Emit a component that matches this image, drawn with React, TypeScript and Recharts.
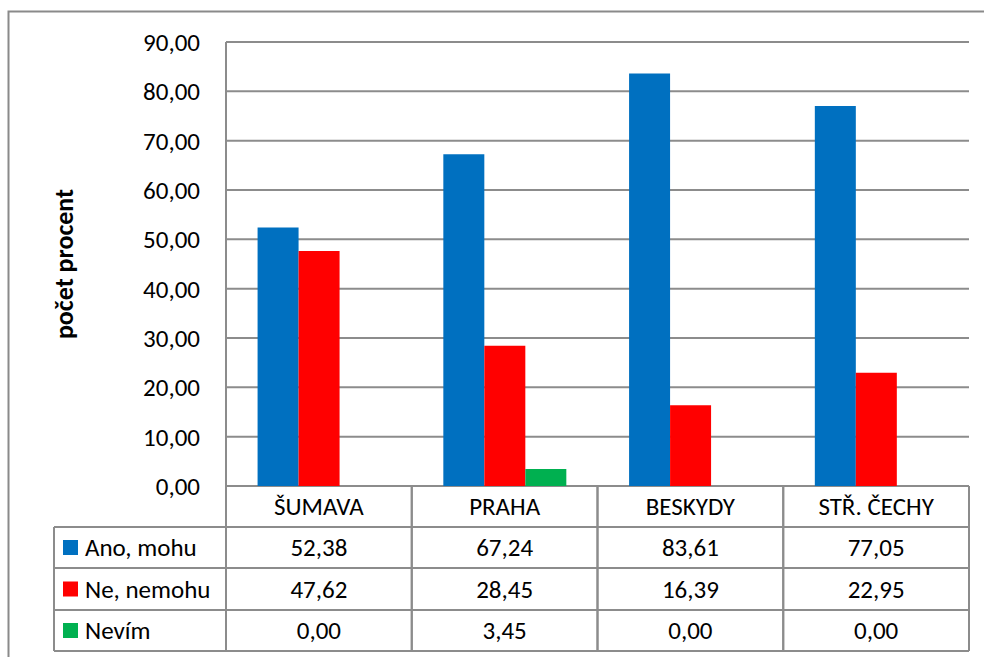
import React from 'react';
import { BarChart, Bar, XAxis, YAxis, CartesianGrid } from 'recharts';

const categories = ['ŠUMAVA', 'PRAHA', 'BESKYDY', 'STŘ. ČECHY'];
const anoMohu = [52.38, 67.24, 83.61, 77.05];
const neNemohu = [47.62, 28.45, 16.39, 22.95];
const nevim = [0.0, 3.45, 0.0, 0.0];
const seriesNames = ['Ano, mohu', 'Ne, nemohu', 'Nevím'];
const yTicks = [0, 10, 20, 30, 40, 50, 60, 70, 80, 90];

const colors = ['#0070C0', '#FF0000', '#00B050'];
const FONT = 'Carlito, Calibri, Lato, sans-serif';
const FS = 25;
const LINE = '#8c8c8c';

// layout of the plot / data table (page pixels)
const W = 984;
const H = 657;
const PLOT_LEFT = 226;
const PLOT_RIGHT = 969;
const PLOT_TOP = 42;
const PLOT_BOTTOM = 486;
const TABLE_LEFT = 54;
const ROW_LINES = [527, 568, 610, 651];
const BAND = (PLOT_RIGHT - PLOT_LEFT) / categories.length;

const data = categories.map((name, i) => ({
  name,
  ano: anoMohu[i],
  ne: neNemohu[i],
  nevim: nevim[i],
}));

const series = [anoMohu, neNemohu, nevim];
const fmt = (v: number) => v.toFixed(2).replace('.', ',');

const rowCenter = (r: number) => {
  const top = r === 0 ? PLOT_BOTTOM : ROW_LINES[r - 1];
  return (top + ROW_LINES[r]) / 2;
};

// one column of the data table, positioned by the x axis
const TableTick = (props: any) => {
  const { x, index, payload } = props;
  const left = x - BAND / 2;
  const right = x + BAND / 2;
  return (
    <g>
      <line x1={left} x2={left} y1={PLOT_BOTTOM} y2={ROW_LINES[3]} stroke={LINE} strokeWidth={2} />
      <line x1={right} x2={right} y1={PLOT_BOTTOM} y2={ROW_LINES[3]} stroke={LINE} strokeWidth={2} />
      <text x={x} y={rowCenter(0)} textAnchor="middle" dominantBaseline="central" fontSize={FS} fontFamily={FONT} fill="#000">
        {payload.value}
      </text>
      {series.map((s, r) => (
        <text key={r} x={x} y={rowCenter(r + 1)} textAnchor="middle" dominantBaseline="central" fontSize={FS} fontFamily={FONT} fill="#000">
          {fmt(s[index])}
        </text>
      ))}
    </g>
  );
};

const Decor = () => (
  <g>
    <rect x={8.5} y={11.5} width={1000} height={700} fill="none" stroke="#8a8a8a" strokeWidth={2} />
    <line x1={PLOT_LEFT} x2={PLOT_LEFT} y1={PLOT_TOP} y2={ROW_LINES[3]} stroke={LINE} strokeWidth={2} />
    <line x1={PLOT_LEFT} x2={PLOT_RIGHT} y1={PLOT_BOTTOM} y2={PLOT_BOTTOM} stroke={LINE} strokeWidth={2} />
    {ROW_LINES.map((y) => (
      <line key={y} x1={TABLE_LEFT} x2={PLOT_RIGHT} y1={y} y2={y} stroke={LINE} strokeWidth={2} />
    ))}
    <line x1={TABLE_LEFT} x2={TABLE_LEFT} y1={ROW_LINES[0]} y2={ROW_LINES[3]} stroke={LINE} strokeWidth={2} />
    {seriesNames.map((n, r) => (
      <g key={n}>
        <rect x={63} y={rowCenter(r + 1) - 7.5} width={15} height={15} fill={colors[r]} />
        <text x={85} y={rowCenter(r + 1)} dominantBaseline="central" fontSize={FS} fontFamily={FONT} fill="#000">
          {n}
        </text>
      </g>
    ))}
    <text
      x={64}
      y={(PLOT_TOP + PLOT_BOTTOM) / 2}
      transform={`rotate(-90 64 ${(PLOT_TOP + PLOT_BOTTOM) / 2})`}
      textAnchor="middle"
      dominantBaseline="central"
      fontSize={26}
      fontWeight="bold"
      fontFamily={FONT}
      fill="#000"
    >
      počet procent
    </text>
  </g>
);

export default function App() {
  return (
    <div style={{ position: 'absolute', left: 0, top: 0, width: W, height: H, background: '#fff' }}>
      <BarChart
        width={W}
        height={H}
        data={data}
        margin={{ top: PLOT_TOP, right: W - PLOT_RIGHT, bottom: 6, left: 0 }}
        barCategoryGap="17%"
        barGap={0}
      >
        <CartesianGrid vertical={false} stroke={LINE} strokeWidth={2} />
        <YAxis
          width={PLOT_LEFT}
          domain={[0, 90]}
          ticks={yTicks}
          interval={0}
          tickFormatter={fmt}
          axisLine={false}
          tickLine={false}
          tickSize={0}
          tickMargin={26}
          tick={{ fill: '#000', fontSize: FS, fontFamily: FONT }}
        />
        <XAxis
          dataKey="name"
          height={H - PLOT_BOTTOM - 6}
          axisLine={false}
          tickLine={false}
          interval={0}
          tick={<TableTick />}
        />
        <Bar dataKey="ano" name={seriesNames[0]} fill={colors[0]} isAnimationActive={false} />
        <Bar dataKey="ne" name={seriesNames[1]} fill={colors[1]} isAnimationActive={false} />
        <Bar dataKey="nevim" name={seriesNames[2]} fill={colors[2]} isAnimationActive={false} />
        <Decor />
      </BarChart>
    </div>
  );
}
